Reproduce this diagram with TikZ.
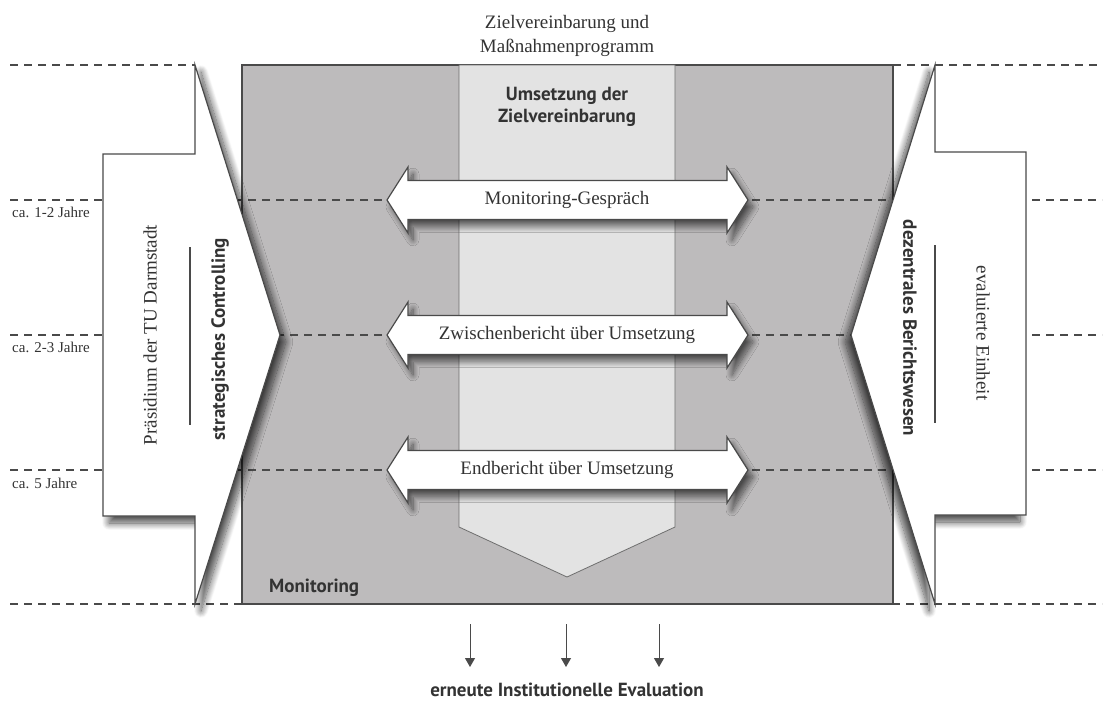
\documentclass[tikz,border=0pt]{standalone}
\usepackage{fontspec}
\setmainfont{Liberation Serif}
\setsansfont{PT Sans}
\usetikzlibrary{shadows.blur,arrows.meta}
\definecolor{monigrey}{HTML}{BDBBBC}
\definecolor{colgrey}{HTML}{E3E3E3}
\definecolor{edgec}{HTML}{4A4A4A}
\definecolor{txt}{HTML}{333333}
\tikzset{
  dashline/.style={draw=edgec, line width=1.2pt, dash pattern=on 8pt off 6pt},
  whitebox/.style={fill=white, draw=edgec, line width=1.2pt, line join=miter},
  shadR/.style={blur shadow={shadow xshift=6pt, shadow yshift=-7pt, shadow blur radius=7pt, shadow blur steps=14, shadow opacity=70}},
  shadL/.style={blur shadow={shadow xshift=-6pt, shadow yshift=-7pt, shadow blur radius=7pt, shadow blur steps=14, shadow opacity=70}},
  shadA/.style={blur shadow={shadow xshift=5pt, shadow yshift=-7pt, shadow blur radius=6pt, shadow blur steps=12, shadow opacity=60}},
  serif/.style={font=\fontsize{19}{24}\selectfont, text=txt, inner sep=0pt},
  small/.style={font=\fontsize{15}{18}\selectfont, text=txt, inner sep=0pt},
  sansb/.style={font=\sffamily\bfseries\fontsize{19}{22}\selectfont, text=txt, inner sep=0pt},
  downarrow/.style={draw=edgec, line width=1pt, -{Triangle[length=9pt,width=10pt]}}
}
\newcommand\dblarrow[3]{%
  \begin{scope}[shift={(0,#1)}]
    \path[whitebox, shadA] (387,0) -- (408,-33) -- (408,-19.5) -- (727,-19.5) -- (727,-33)
      -- (748,0) -- (727,33) -- (727,19.5) -- (408,19.5) -- (408,33) -- cycle;
    \node[serif] (#3) at (567,0) {#2};
  \end{scope}}
\begin{document}
\begin{tikzpicture}[x=1pt,y=-1pt]
\useasboundingbox (0,0) rectangle (1110,702);
% monitoring area
\path[fill=monigrey, draw=edgec, line width=1.2pt] (242,65) rectangle (893,604);
\path[fill=colgrey, draw=edgec!80, line width=0.8pt] (459,65) -- (675,65) -- (675,527) -- (567,577) -- (459,527) -- cycle;
% dashed time lines
\draw[dashline] (10,65) -- (195,65);
\draw[dashline] (893,65) -- (1102,65);
\foreach \yy in {200,335,470,604} {
  \draw[dashline] (10,\yy) -- (1102,\yy);
}
% left and right shapes
\path[whitebox, shadR] (195,65) -- (195,154) -- (103,154) -- (103,516) -- (195,516) -- (195,604) -- (280,335) -- cycle;
\path[whitebox, shadL] (935,65) -- (935,152) -- (1026,152) -- (1026,515) -- (935,515) -- (935,604) -- (851,335) -- cycle;
\draw[edgec, line width=1.2pt] (190,247) -- (190,425);
\draw[edgec, line width=1.2pt] (935,245) -- (935,423);
% double arrows
\dblarrow{200}{Monitoring-Gespräch}{a1}
\dblarrow{335}{Zwischenbericht über Umsetzung}{a2}
\dblarrow{470}{Endbericht über Umsetzung}{a3}
% texts
\node[serif, align=center] (zv) at (567,36) {Zielvereinbarung und\\Maßnahmenprogramm};
\node[sansb, align=center] (um) at (567,107) {Umsetzung der\\Zielvereinbarung};
\node[small, anchor=west] (j1) at (12,212) {ca. 1-2 Jahre};
\node[small, anchor=west] (j2) at (12,347) {ca. 2-3 Jahre};
\node[small, anchor=west] (j3) at (12,483) {ca. 5 Jahre};
\node[serif, rotate=90] (pr) at (150,335) {Präsidium der TU Darmstadt};
\node[sansb, rotate=90] (sc) at (220,339) {strategisches Controlling};
\node[sansb, rotate=-90] (db) at (910,328) {dezentrales Berichtswesen};
\node[serif, rotate=-90] (ee) at (983,333) {evaluierte Einheit};
\node[sansb, anchor=west] (mo) at (269,588) {Monitoring};
\node[sansb] (ev) at (567,690) {erneute Institutionelle Evaluation};
% down arrows
\coordinate (s1) at (470,624); \coordinate (e1) at (470,667);
\coordinate (s2) at (566,624); \coordinate (e2) at (566,667);
\coordinate (s3) at (659,624); \coordinate (e3) at (659,667);
\draw[downarrow] (s1) -- (e1);
\draw[downarrow] (s2) -- (e2);
\draw[downarrow] (s3) -- (e3);
\end{tikzpicture}
\end{document}
